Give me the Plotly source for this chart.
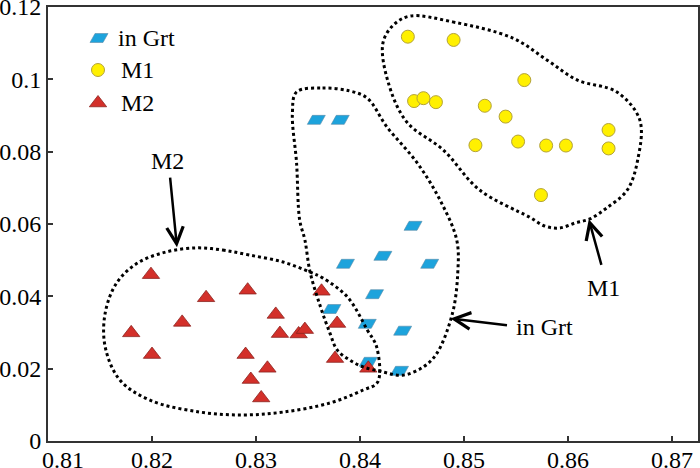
import plotly.graph_objects as go

# ---------------- data ----------------
grt_x = [0.8358, 0.8381, 0.8451, 0.8422, 0.8386, 0.8467, 0.8414, 0.8373, 0.8407, 0.8441, 0.8408, 0.8438]
grt_y = [0.0888, 0.0888, 0.0595, 0.0512, 0.0490, 0.0490, 0.0406, 0.0365, 0.0324, 0.0305, 0.0219, 0.0194]

m1_x = [0.8446, 0.8490, 0.8558, 0.8452, 0.8461, 0.8473, 0.8520, 0.8540, 0.8639, 0.8639,
        0.8511, 0.8552, 0.8579, 0.8598, 0.8574]
m1_y = [0.1118, 0.1109, 0.0998, 0.0940, 0.0948, 0.0937, 0.0927, 0.0897, 0.0860, 0.0809,
        0.0818, 0.0828, 0.0817, 0.0817, 0.0680]

m2_x = [0.8199, 0.8252, 0.8292, 0.8229, 0.8180, 0.8200, 0.8319, 0.8323, 0.8341, 0.8347,
        0.8290, 0.8311, 0.8295, 0.8305, 0.8363, 0.8378, 0.8376, 0.8408]
m2_y = [0.0460, 0.0396, 0.0417, 0.0328, 0.0299, 0.0239, 0.0350, 0.0297, 0.0296, 0.0308,
        0.0239, 0.0201, 0.0170, 0.0119, 0.0414, 0.0325, 0.0228, 0.0201]

# hand-drawn field outlines (data coordinates)
m1_out_x = [0.8448, 0.8489, 0.8547, 0.8580, 0.8609, 0.8647, 0.8669, 0.8667, 0.8657, 0.8637, 0.8621,
            0.8607, 0.8592, 0.8578, 0.8563, 0.8515, 0.8480, 0.8445, 0.8427, 0.8422, 0.8432, 0.8448]
m1_out_y = [0.1175, 0.1159, 0.1114, 0.1053, 0.0998, 0.0965, 0.0888, 0.0777, 0.0694, 0.0644, 0.0614,
            0.0603, 0.0589, 0.0594, 0.0619, 0.0694, 0.0805, 0.0882, 0.0993, 0.1100, 0.1150, 0.1175]

grt_out_x = [0.8339, 0.8364, 0.8390, 0.8407, 0.8426, 0.8455, 0.8477, 0.8493, 0.8494, 0.8489, 0.8474,
             0.8461, 0.8441, 0.8422, 0.8403, 0.8390, 0.8378, 0.8371, 0.8362, 0.8352, 0.8347, 0.8342,
             0.8339, 0.8335, 0.8339]
grt_out_y = [0.0965, 0.0976, 0.0968, 0.0948, 0.0868, 0.0769, 0.0666, 0.0556, 0.0465, 0.0354, 0.0243,
             0.0205, 0.0182, 0.0191, 0.0205, 0.0224, 0.0252, 0.0299, 0.0371, 0.0467, 0.0556, 0.0611,
             0.0769, 0.0907, 0.0965]

m2_out_x = [0.8243, 0.8268, 0.8294, 0.8326, 0.8352, 0.8364, 0.8388, 0.8407, 0.8416, 0.8417, 0.8403,
            0.8371, 0.8326, 0.8288, 0.8246, 0.8198, 0.8169, 0.8155, 0.8155, 0.8166, 0.8186, 0.8214, 0.8243]
m2_out_y = [0.0534, 0.0528, 0.0514, 0.0495, 0.0467, 0.0451, 0.0398, 0.0307, 0.0260, 0.0163, 0.0141,
            0.0105, 0.0080, 0.0072, 0.0080, 0.0113, 0.0169, 0.0260, 0.0354, 0.0437, 0.0492, 0.0523, 0.0534]

x_tickvals = [0.81, 0.82, 0.83, 0.84, 0.85, 0.86, 0.87]
x_ticktext = ["\u00a0" * 5 + "0.81", "0.82", "0.83", "0.84", "0.85", "0.86", "0.87"]
y_tickvals = [0, 0.02, 0.04, 0.06, 0.08, 0.10, 0.12]
y_ticktext = ["0", "0.02", "0.04", "0.06", "0.08", "0.1", "0.12"]

series_names = ["in Grt", "M1", "M2"]

# ---------------- styles ----------------
FONT = "Liberation Serif, Times New Roman, serif"
BLUE = "#1DA3DC"
BLUE_EDGE = "#5B8CA8"
YELLOW = "#FFF000"
YELLOW_EDGE = "#B3A23A"
RED = "#D3302A"
RED_EDGE = "#8C2320"
PARA = "M-9,-4.5 L4,-4.5 L9,4.5 L-4,4.5 Z"
TRI = "M-8.66,-3.75 L8.66,-3.75 L0,7.5 Z"

fig = go.Figure()

# in Grt points (data kept in a trace, drawn as parallelograms via shapes)
fig.add_trace(go.Scatter(x=grt_x, y=grt_y, mode="markers", name=series_names[0],
                         marker=dict(size=14, color="rgba(0,0,0,0)"), showlegend=False))
shapes = []
for gx, gy in zip(grt_x, grt_y):
    shapes.append(dict(type="path", xref="x", yref="y", xsizemode="pixel", ysizemode="pixel",
                       xanchor=gx, yanchor=gy, path=PARA, fillcolor=BLUE,
                       line=dict(color=BLUE_EDGE, width=0.6), layer="below"))

fig.add_trace(go.Scatter(x=m1_x, y=m1_y, mode="markers", name=series_names[1], showlegend=False,
                         marker=dict(symbol="circle", size=13, color=YELLOW,
                                     line=dict(color=YELLOW_EDGE, width=1))))
fig.add_trace(go.Scatter(x=m2_x, y=m2_y, mode="markers", name=series_names[2], showlegend=False,
                         marker=dict(symbol="triangle-up", size=15, color=RED,
                                     line=dict(color=RED_EDGE, width=0.8))))

for ox, oy in [(m1_out_x, m1_out_y), (grt_out_x, grt_out_y), (m2_out_x, m2_out_y)]:
    fig.add_trace(go.Scatter(x=ox, y=oy, mode="lines", showlegend=False, hoverinfo="skip",
                             line=dict(color="black", width=3, dash="3px,3px",
                                       shape="spline", smoothing=1.0)))

# manual legend
def pxx(p):
    return (p - 48) / 650.0

def pxy(p):
    return (441 - p) / 434.0

leg_rows = [38, 70, 103]
shapes.append(dict(type="path", xref="paper", yref="paper", xsizemode="pixel", ysizemode="pixel",
                   xanchor=pxx(99), yanchor=pxy(leg_rows[0]), path=PARA, fillcolor=BLUE,
                   line=dict(color=BLUE_EDGE, width=0.6)))
shapes.append(dict(type="circle", xref="paper", yref="paper", xsizemode="pixel", ysizemode="pixel",
                   xanchor=pxx(98), yanchor=pxy(leg_rows[1]), x0=-6.5, x1=6.5, y0=-6.5, y1=6.5,
                   fillcolor=YELLOW, line=dict(color=YELLOW_EDGE, width=1)))
shapes.append(dict(type="path", xref="paper", yref="paper", xsizemode="pixel", ysizemode="pixel",
                   xanchor=pxx(98), yanchor=pxy(leg_rows[2]), path=TRI, fillcolor=RED,
                   line=dict(color=RED_EDGE, width=0.8)))

annotations = []
for name, row, tx in zip(series_names, leg_rows, [116, 119, 119]):
    annotations.append(dict(xref="paper", yref="paper", x=pxx(tx), y=pxy(row), text=name,
                            showarrow=False, xanchor="left", yanchor="middle",
                            font=dict(family=FONT, size=24, color="black")))

# arrows + labels
arrow_specs = [
    # tip x, tip y, ax, ay
    (0.8224, 0.0536, -7, -71),
    (0.8487, 0.0339, 58, 7),
    (0.8620, 0.0613, 13, 47),
]
for tx, ty, ax, ay in arrow_specs:
    annotations.append(dict(x=tx, y=ty, xref="x", yref="y", ax=ax, ay=ay, text="",
                            showarrow=True, arrowhead=5, arrowsize=1.3, arrowwidth=2.5,
                            arrowcolor="black"))
label_specs = [("M2", 0.8215, 0.0774), ("in Grt", 0.8577, 0.0315), ("M1", 0.8634, 0.0423)]
for txt, lx, ly in label_specs:
    annotations.append(dict(x=lx, y=ly, xref="x", yref="y", text=txt, showarrow=False,
                            xanchor="center", yanchor="middle",
                            font=dict(family=FONT, size=24, color="black")))

axis_common = dict(showgrid=False, zeroline=False, showline=True, linecolor="#333333",
                   linewidth=2, mirror=True, ticks="inside", ticklen=5, tickwidth=1.5,
                   tickcolor="#333333", automargin=False, ticklabeloverflow="allow",
                   tickfont=dict(family=FONT, size=24, color="black"))

fig.update_layout(
    width=700, height=468,
    margin=dict(l=48, r=2, t=7, b=27),
    paper_bgcolor="white", plot_bgcolor="white",
    showlegend=False,
    xaxis=dict(range=[0.81, 0.8725], tickvals=x_tickvals, ticktext=x_ticktext,
               ticklabelstandoff=-4, **axis_common),
    yaxis=dict(range=[0, 0.12001], tickvals=y_tickvals, ticktext=y_ticktext, **axis_common),
    shapes=shapes,
    annotations=annotations,
)

fig.write_html("out.html", config={"displayModeBar": False},
               post_script="document.body.style.margin='0';document.body.style.overflow='hidden';")
